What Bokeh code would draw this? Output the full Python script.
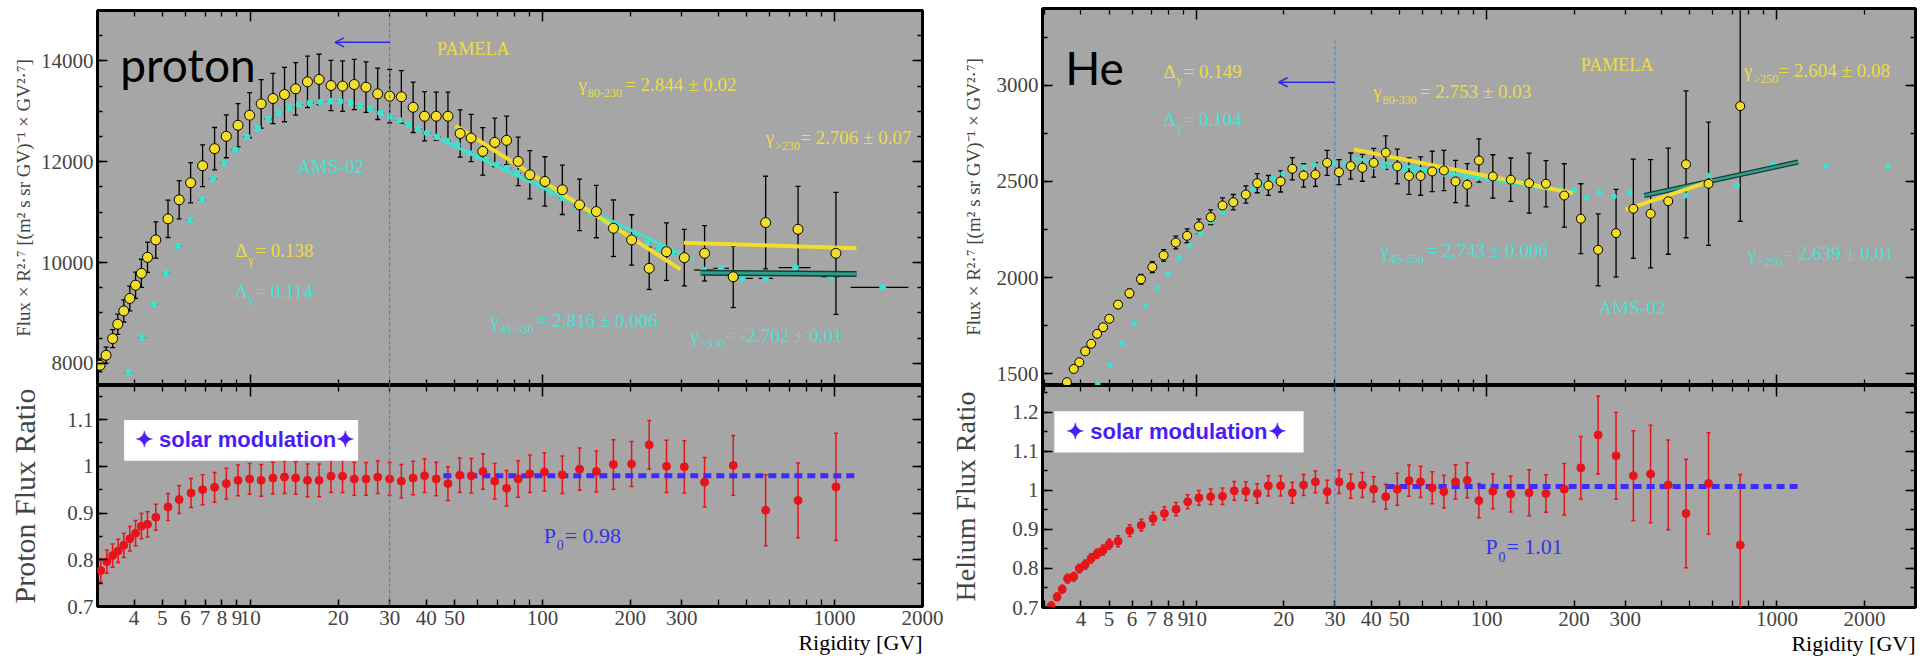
import numpy as np
from bokeh.plotting import figure
from bokeh.layouts import row, column
from bokeh.models import (Range1d, FixedTicker, LinearAxis, LogAxis, Label, Span, Title,
                          Arrow, OpenHead, TeeHead, Whisker, ColumnDataSource, BoxAnnotation)
from bokeh.embed import file_html
from bokeh.resources import INLINE

# ---------------- data: proton ----------------
p_pam_R = [3.06, 3.21, 3.38, 3.52, 3.69, 3.87, 4.05, 4.24, 4.45, 4.75, 5.23, 5.71, 6.25, 6.87, 7.55,
           8.28, 9.08, 9.95, 10.9, 11.96, 13.1, 14.3, 15.7, 17.2, 18.9, 20.7, 22.7, 24.9, 27.3, 30.0,
           32.9, 36.1, 39.5, 43.3, 47.5, 52.3, 57.0, 62.5, 68.7, 75.4, 82.6, 90.6, 102, 117, 134,
           153, 175, 202, 232, 266, 306, 359, 450, 581, 750, 1011]
p_pam_F = [7960, 8160, 8490, 8776, 9040, 9287, 9550, 9785, 10103, 10448, 10866, 11244, 11582, 11920, 12259,
           12504, 12723, 12922, 13148, 13254, 13333, 13446, 13585, 13632, 13512, 13500, 13532, 13479, 13347, 13300,
           13287, 13080, 12902, 12902, 12902, 12560, 12470, 12205, 12384, 12424, 12006, 11741, 11608, 11443, 11144,
           11011, 10680, 10448, 9885, 10215, 10096, 10183, 9717, 10792, 10659, 10183]
p_pam_E = [130, 160, 180, 200, 220, 245, 260, 280, 300, 360, 370, 380, 400, 415, 420,
           425, 430, 450, 480, 500, 540, 520, 510, 500, 500, 500, 500, 500, 510, 530,
           520, 500, 490, 480, 480, 470, 470, 470, 480, 480, 480, 480, 490, 490, 510,
           520, 560, 500, 420, 570, 560, 550, 610, 920, 850, 1210]

p_ams_R = [3.83, 4.26, 4.67, 5.14, 5.65, 6.23, 6.84, 7.45, 8.15, 8.89, 9.75, 10.6, 11.5, 12.5, 13.6,
           14.7, 16.0, 17.4, 18.8, 20.3, 22.0, 23.8, 25.8, 27.9, 30.0, 32.4, 34.8, 37.5, 40.3, 43.6,
           47.2, 51.1, 56.0, 59.8, 64.3, 69.9, 75.7, 81.9, 88.6, 97.1, 106, 118, 131, 146, 162,
           183, 205, 228, 250, 278, 305, 357, 409, 483, 581, 735, 968, 1462]
p_ams_F = [7814, 8511, 9174, 9785, 10328, 10846, 11244, 11655, 11972, 12239, 12491, 12670, 12849, 12968, 13068,
           13134, 13167, 13180, 13200, 13200, 13167, 13114, 13048, 12968, 12902, 12823, 12736, 12650, 12570, 12491,
           12404, 12338, 12173, 12105, 12040, 11940, 11874, 11775, 11675, 11542, 11409, 11278, 11110, 10980, 10846,
           10647, 10513, 10382, 10282, 10183, 10083, 9851, 9884, 9685, 9685, 9897, 9718, 9506]
p_ams_bin_lo = [330, 385, 433, 550, 644, 900, 1135]      # last 7 points
p_ams_bin_hi = [385, 435, 525, 615, 828, 1040, 1790]

p_rat_R = [3.08, 3.23, 3.38, 3.53, 3.69, 3.87, 4.05, 4.24, 4.45, 4.75, 5.23, 5.71, 6.27, 6.87, 7.55,
           8.28, 9.08, 9.95, 10.9, 11.96, 13.1, 14.3, 15.7, 17.2, 18.9, 20.7, 22.7, 24.9, 27.3, 30.0,
           32.9, 36.1, 39.5, 43.3, 47.5, 52.1, 57.1, 62.6, 68.7, 75.4, 82.6, 90.6, 101.6, 117, 134,
           153, 175, 202, 232, 266, 306, 359, 450, 581, 750, 1011]
p_rat_V = [0.777, 0.796, 0.809, 0.819, 0.831, 0.845, 0.857, 0.872, 0.876, 0.891, 0.913, 0.929, 0.943, 0.950, 0.955,
           0.963, 0.970, 0.973, 0.970, 0.975, 0.977, 0.975, 0.970, 0.970, 0.979, 0.979, 0.973, 0.973, 0.977, 0.973,
           0.968, 0.975, 0.980, 0.973, 0.963, 0.981, 0.980, 0.989, 0.968, 0.953, 0.973, 0.984, 0.988, 0.982, 0.994,
           0.989, 1.004, 1.005, 1.046, 1.000, 0.999, 0.966, 1.002, 0.906, 0.927, 0.956]
p_rat_E = [0.025, 0.025, 0.025, 0.025, 0.026, 0.026, 0.027, 0.027, 0.027, 0.028,
           0.029, 0.030, 0.031, 0.032, 0.032, 0.033, 0.033, 0.033, 0.034, 0.034,
           0.035, 0.035, 0.035, 0.035, 0.035, 0.035, 0.035, 0.035, 0.035, 0.035,
           0.036, 0.036, 0.036, 0.036, 0.036, 0.037, 0.037, 0.038, 0.038, 0.038,
           0.039, 0.040, 0.041, 0.040, 0.045, 0.044, 0.053, 0.048, 0.052, 0.056,
           0.056, 0.053, 0.064, 0.076, 0.080, 0.115]

p_fit_pam1_R, p_fit_pam1_F = [50.4, 297], [12716, 9865]
p_fit_pam2_R, p_fit_pam2_F = [305, 1189], [10394, 10282]
p_fit_ams1_R, p_fit_ams1_F = [45, 330], [12440, 10050]
p_fit_ams2_R, p_fit_ams2_F = [348, 1189], [9797, 9771]
p_p0_R, p_p0 = [45.8, 1190], 0.98

# ---------------- data: helium ----------------
he_pam_R = [3.58, 3.78, 3.95, 4.14, 4.34, 4.55, 4.77, 5.01, 5.37, 5.88, 6.44, 7.05, 7.71, 8.49, 9.29,
            10.2, 11.2, 12.3, 13.4, 14.8, 16.2, 17.7, 19.5, 21.4, 23.4, 25.7, 28.2, 31.0, 34.0, 37.3,
            40.8, 44.9, 49.2, 54.0, 59.2, 64.9, 71.2, 78.1, 85.7, 94.0, 105, 121, 140, 160, 185,
            211, 242, 279, 320, 367, 422, 486, 581, 747]
he_pam_F = [1455, 1524, 1559, 1616, 1655, 1707, 1741, 1785, 1859, 1918, 1991, 2054, 2115, 2182, 2217,
            2266, 2314, 2375, 2392, 2432, 2491, 2479, 2500, 2566, 2531, 2536, 2597, 2548, 2580, 2571,
            2597, 2650, 2578, 2528, 2528, 2552, 2557, 2500, 2483, 2609, 2526, 2509, 2491, 2488, 2427,
            2306, 2144, 2231, 2358, 2332, 2397, 2589, 2488, 2892]
he_pam_E = [15, 15, 16, 16, 17, 17, 18, 18, 20, 22, 25, 28, 30, 33, 36,
            38, 38, 39, 40, 45, 50, 52, 55, 58, 61, 62, 65, 65, 68, 70,
            75, 87, 90, 95, 100, 105, 105, 110, 110, 113, 113, 113, 156, 120, 165,
            182, 187, 228, 258, 282, 276, 382, 321, 600]

he_ams_R = [4.57, 5.04, 5.57, 6.11, 6.68, 7.32, 7.98, 8.73, 9.48, 10.3, 11.2, 12.3, 13.4, 14.5, 15.7,
            17.0, 18.4, 19.9, 21.5, 23.4, 25.4, 27.5, 29.7, 32.2, 34.9, 37.7, 40.8, 44.2, 47.9, 51.9,
            56.1, 60.8, 65.8, 71.2, 77.1, 85, 93, 102, 112, 123, 135, 148, 163, 180, 200,
            221, 245, 274, 310, 353, 486, 584, 728, 970, 1476, 2409]
he_ams_F = [1446, 1545, 1658, 1762, 1854, 1946, 2019, 2101, 2167, 2228, 2292, 2340, 2384, 2427, 2462,
            2488, 2514, 2540, 2561, 2574, 2587, 2592, 2595, 2592, 2589, 2583, 2580, 2574, 2569, 2562,
            2557, 2552, 2545, 2540, 2531, 2525, 2518, 2510, 2500, 2492, 2482, 2472, 2465, 2458, 2453,
            2415, 2444, 2422, 2444, 2427, 2427, 2531, 2479, 2592, 2580, 2580]

he_rat_R = [3.16, 3.31, 3.45, 3.60, 3.78, 3.95, 4.14, 4.34, 4.55, 4.77, 5.01, 5.37, 5.89, 6.46, 7.09,
            7.76, 8.51, 9.33, 10.2, 11.2, 12.3, 13.5, 14.8, 16.2, 17.7, 19.5, 21.4, 23.4, 25.7, 28.2,
            31.0, 34.0, 37.3, 40.8, 44.9, 49.2, 54.0, 59.2, 64.9, 71.2, 78.1, 85.7, 94.0, 105, 121,
            140, 160, 185, 211, 242, 279, 320, 367, 422, 486, 581, 747]
he_rat_V = [0.704, 0.727, 0.747, 0.774, 0.779, 0.800, 0.810, 0.826, 0.838, 0.847, 0.862, 0.870, 0.897, 0.911, 0.928,
            0.941, 0.952, 0.971, 0.981, 0.984, 0.985, 0.999, 0.998, 0.992, 1.012, 1.012, 0.994, 1.014, 1.022, 0.997,
            1.022, 1.011, 1.014, 1.003, 0.984, 1.003, 1.025, 1.022, 1.007, 0.997, 1.022, 1.026, 0.974, 0.998, 0.991,
            0.994, 0.992, 1.003, 1.058, 1.142, 1.089, 1.038, 1.042, 1.014, 0.941, 1.018, 0.860]
he_rat_E = [0.010, 0.010, 0.010, 0.011, 0.011, 0.011, 0.012, 0.012, 0.012, 0.013, 0.013, 0.014, 0.015, 0.015, 0.016,
            0.017, 0.017, 0.018, 0.019, 0.020, 0.021, 0.024, 0.024, 0.025, 0.026, 0.026, 0.027, 0.027, 0.028, 0.029,
            0.030, 0.031, 0.032, 0.032, 0.032, 0.041, 0.040, 0.040, 0.041, 0.042, 0.044, 0.045, 0.044, 0.045, 0.046,
            0.059, 0.048, 0.066, 0.080, 0.100, 0.111, 0.115, 0.125, 0.115, 0.139, 0.130, 0.181]

he_fit_pam1_R, he_fit_pam1_F = [34.8, 198], [2667, 2439]
he_fit_ams1_R, he_fit_ams1_F = [34.4, 198], [2622, 2445]
he_fit_pam2_R, he_fit_pam2_F = [301, 600], [2353, 2505]
he_fit_ams2_R, he_fit_ams2_F = [349, 1183], [2427, 2601]
he_p0_R, he_p0 = [45.2, 1181], 1.01

x_label_ticks = [4, 5, 6, 7, 8, 9, 10, 20, 30, 40, 50, 100, 200, 300, 1000, 2000]
x_unlabeled = [3, 60, 70, 80, 90, 400, 500, 600, 700, 800, 900, 3000]
x_decades = [10, 100, 1000]
x_minors = [3, 4, 5, 6, 7, 8, 9, 20, 30, 40, 50, 60, 70, 80, 90,
            200, 300, 400, 500, 600, 700, 800, 900, 2000, 3000]

# ---------------- styles ----------------
SERIF = "Liberation Serif"
GRAY = "#a6a6a6"
YEL = "#f2dc2c"
YEL_T = "#ecdc48"
CYAN = "#3fe0cf"
CYAN_T = "#45e3d3"
RED = "#e8141c"
BLUE_L = "#3d2bff"
BLUE_T = "#3434e6"
VIOLET = "#4a1cf7"
TEAL = "#2e9e8e"


def base_fig(xr, yr, fw, fh, bl, bt, br, bb):
    p = figure(x_axis_type="log", x_range=xr, y_range=yr, frame_width=fw, frame_height=fh,
               min_border_left=bl, min_border_top=bt, min_border_right=br, min_border_bottom=bb,
               x_axis_location=None, y_axis_location=None,
               output_backend="svg", toolbar_location=None)
    p.background_fill_color = GRAY
    p.border_fill_color = "white"
    p.outline_line_color = "black"
    p.outline_line_width = 3
    p.grid.grid_line_color = None
    return p


def tick_style(ax, tin, mtin):
    ax.major_tick_in = tin
    ax.major_tick_out = 0
    ax.minor_tick_in = mtin
    ax.minor_tick_out = 0
    ax.major_tick_line_width = 1.5
    ax.minor_tick_line_width = 1.3
    ax.major_tick_line_color = "black"
    ax.minor_tick_line_color = "black"
    ax.axis_line_color = None


def hidden(ax):
    ax.major_label_text_font_size = "0px"
    ax.major_label_text_color = None
    ax.major_label_standoff = 0


def add_axes(p, yticks, yminor, ylabel, ylabel_size, ylabel_standoff, bottom_labels, overrides=None):
    yl = LinearAxis(ticker=FixedTicker(ticks=yticks, minor_ticks=yminor))
    tick_style(yl, 10, 5)
    yl.major_label_text_font = SERIF
    yl.major_label_text_font_size = "21px"
    yl.major_label_standoff = 4
    if overrides:
        yl.major_label_overrides = overrides
    yl.axis_label = ylabel
    yl.axis_label_text_font = SERIF
    yl.axis_label_text_font_size = ylabel_size
    yl.axis_label_text_font_style = "normal"
    yl.axis_label_standoff = ylabel_standoff
    p.add_layout(yl, "left")

    yr = LinearAxis(ticker=FixedTicker(ticks=yticks, minor_ticks=yminor))
    tick_style(yr, 10, 5)
    hidden(yr)
    p.add_layout(yr, "right")

    xa = LogAxis(ticker=FixedTicker(ticks=x_decades, minor_ticks=x_minors))
    tick_style(xa, 11, 6)
    hidden(xa)
    p.add_layout(xa, "above")

    if bottom_labels:
        xb = LogAxis(ticker=FixedTicker(ticks=x_label_ticks, minor_ticks=x_unlabeled))
        tick_style(xb, 7, 7)
        xb.major_label_overrides = {t: str(t) for t in x_label_ticks}
        xb.major_label_text_font = SERIF
        xb.major_label_text_font_size = "21px"
        xb.major_label_standoff = 4
    else:
        xb = LogAxis(ticker=FixedTicker(ticks=x_decades, minor_ticks=x_minors))
        tick_style(xb, 11, 6)
        hidden(xb)
    p.add_layout(xb, "below")
    if bottom_labels:
        # "Rigidity [GV]" right-aligned under the frame's right edge
        p.add_layout(Title(text="Rigidity [GV]", align="right", text_font=SERIF,
                           text_font_size="22px", text_font_style="normal",
                           text_color="black", standoff=0, offset=0), "below")


def txt(p, x, y, text, color, size="19px", font=SERIF, baseline="middle", style="normal"):
    p.add_layout(Label(x=x, y=y, text=text, text_color=color, text_font=font,
                       text_font_size=size, text_baseline=baseline, text_font_style=style))


def subtxt(p, x, y, main, sub, rest, color, size=19, sub_size=12, main_w=None):
    mw = main_w if main_w is not None else size * 0.5
    sw = len(sub) * sub_size * 0.5 + 1
    common = dict(x=x, y=y, text_color=color, text_font=SERIF, text_baseline="middle")
    p.add_layout(Label(text=main, text_font_size=f"{size}px", **common))
    p.add_layout(Label(text=sub, text_font_size=f"{sub_size}px", x_offset=mw,
                       y_offset=-size * 0.45, **common))
    p.add_layout(Label(text=rest, text_font_size=f"{size}px", x_offset=mw + sw, **common))


def errbars(p, R, V, E, color, width=1.3, head=5):
    src = ColumnDataSource(dict(x=R, lo=np.array(V) - np.array(E), hi=np.array(V) + np.array(E)))
    w = Whisker(source=src, base="x", lower="lo", upper="hi", dimension="height",
                line_color=color, line_width=width,
                lower_head=TeeHead(size=head, line_color=color, line_width=width),
                upper_head=TeeHead(size=head, line_color=color, line_width=width))
    p.add_layout(w)


flux_label = "Flux × R²·⁷ [(m² s sr GV)⁻¹ × GV²·⁷]"
ratio_over = {0.7: "0.7", 0.8: "0.8", 0.9: "0.9", 1: "1", 1.1: "1.1", 1.2: "1.2"}

left_x = Range1d(3.0, 2000)
right_x = Range1d(2.95, 3000)

# ================= proton top =================
pLt = base_fig(left_x, Range1d(7560, 15000), 825, 375, 97, 10, 25, 0)
add_axes(pLt, [8000, 10000, 12000, 14000], list(range(7500, 15001, 500)),
         flux_label, "19px", 4, False)
pLt.add_layout(Span(location=30, dimension="height", line_color="#3b82d6", line_width=1, line_dash="4 2"))

# AMS-02
lo = [r / 1.03 for r in p_ams_R[:51]] + p_ams_bin_lo
hi = [r * 1.03 for r in p_ams_R[:51]] + p_ams_bin_hi
pLt.segment(x0=lo, y0=p_ams_F, x1=hi, y1=p_ams_F, line_color="black", line_width=1.2)
pLt.scatter(p_ams_R, p_ams_F, marker="circle", size=6, fill_color=CYAN, line_color=CYAN)
# fits
pLt.line(p_fit_ams1_R, p_fit_ams1_F, line_color=CYAN, line_width=3)
pLt.line(p_fit_ams2_R, p_fit_ams2_F, line_color="#1b3a35", line_width=6)
pLt.line(p_fit_ams2_R, p_fit_ams2_F, line_color=TEAL, line_width=3)
pLt.line(p_fit_pam1_R, p_fit_pam1_F, line_color=YEL, line_width=4)
pLt.line(p_fit_pam2_R, p_fit_pam2_F, line_color=YEL, line_width=4)
# PAMELA
errbars(pLt, p_pam_R, p_pam_F, p_pam_E, "black")
pLt.scatter(p_pam_R, p_pam_F, marker="circle", size=10, fill_color=YEL, line_color="black", line_width=1)

txt(pLt, 3.59, 13930, "proton", "black", size="46px", font="Lato", baseline="alphabetic")
pLt.add_layout(Arrow(end=OpenHead(size=9, line_color="#2a2ae8", line_width=1.5),
                     x_start=30, y_start=14368, x_end=19.5, y_end=14368,
                     line_color="#2a2ae8", line_width=1.5))
txt(pLt, 43.6, 14229, "PAMELA", YEL_T, size="18px")
subtxt(pLt, 133, 13532, "γ", "80-230", "= 2.844 ± 0.02", YEL_T)
subtxt(pLt, 581, 12478, "γ", ">230", "= 2.706 ± 0.07", YEL_T)
txt(pLt, 14.5, 11900, "AMS-02", CYAN_T, size="19px")
subtxt(pLt, 8.89, 10229, "Δ", "γ", "= 0.138", YEL_T, main_w=13)
subtxt(pLt, 8.89, 9433, "Δ", "γ", "= 0.114", CYAN_T, main_w=13)
subtxt(pLt, 66.4, 8856, "γ", "45-330", "= 2.816 ± 0.006", CYAN_T)
subtxt(pLt, 321, 8557, "γ", ">330", "= -2.702 ± 0.01", CYAN_T)

# ================= proton bottom =================
pLb = base_fig(left_x, Range1d(0.7, 1.173), 825, 221, 97, 0, 25, 56)
add_axes(pLb, [0.7, 0.8, 0.9, 1.0, 1.1], [0.7, 0.75, 0.8, 0.85, 0.9, 0.95, 1.0, 1.05, 1.1, 1.15],
         "Proton Flux Ratio", "30px", 23, True, overrides=ratio_over)
pLb.add_layout(Span(location=30, dimension="height", line_color="#3b82d6", line_width=1, line_dash="4 2"))
pLb.add_layout(BoxAnnotation(left=3.70, right=23.4, bottom=1.012, top=1.099,
                             fill_color="white", fill_alpha=1, line_color=None))
txt(pLb, 4.03, 1.057, "✦ solar modulation✦", VIOLET, size="22px", font="Liberation Sans", style="bold")
pLb.line(p_p0_R, [p_p0, p_p0], line_color=BLUE_L, line_width=5, line_dash="8 5")
errbars(pLb, p_rat_R, p_rat_V, p_rat_E, RED, width=1.5, head=4)
pLb.scatter(p_rat_R, p_rat_V, marker="circle", size=8, fill_color=RED, line_color=RED)
subtxt(pLb, 101, 0.853, "P", "0", "= 0.98", BLUE_T, size=22, sub_size=14, main_w=13)

# ================= helium top =================
pRt = base_fig(right_x, Range1d(1438, 3400), 873, 377, 95, 8, 15, 0)
add_axes(pRt, [1500, 2000, 2500, 3000], list(range(1250, 3401, 250)),
         flux_label, "19px", 10, False)
pRt.segment(x0=[30], y0=[1438], x1=[30], y1=[3234], line_color="#3b82d6", line_width=1, line_dash="4 2")

pRt.scatter(he_ams_R, he_ams_F, marker="circle", size=5, fill_color=CYAN, line_color=CYAN)
pRt.line(he_fit_ams1_R, he_fit_ams1_F, line_color=CYAN, line_width=3)
pRt.line(he_fit_ams2_R, he_fit_ams2_F, line_color="#1b3a35", line_width=5)
pRt.line(he_fit_ams2_R, he_fit_ams2_F, line_color=TEAL, line_width=2.5)
pRt.line(he_fit_pam1_R, he_fit_pam1_F, line_color=YEL, line_width=4)
pRt.line(he_fit_pam2_R, he_fit_pam2_F, line_color=YEL, line_width=4)
errbars(pRt, he_pam_R, he_pam_F, he_pam_E, "black")
pRt.scatter(he_pam_R, he_pam_F, marker="circle", size=9, fill_color=YEL, line_color="black", line_width=1)

txt(pRt, 3.53, 3094, "He", "black", size="46px", font="Lato", baseline="alphabetic")
pRt.add_layout(Arrow(end=OpenHead(size=9, line_color="#2a2ae8", line_width=1.5),
                     x_start=30, y_start=3016, x_end=19.2, y_end=3016,
                     line_color="#2a2ae8", line_width=1.5))
subtxt(pRt, 7.70, 3073, "Δ", "γ", "= 0.149", YEL_T, main_w=13)
subtxt(pRt, 7.70, 2823, "Δ", "γ", "= 0.104", CYAN_T, main_w=13)
subtxt(pRt, 40.7, 2969, "γ", "80-330", "= 2.753 ± 0.03", YEL_T)
txt(pRt, 211, 3104, "PAMELA", YEL_T, size="18px")
subtxt(pRt, 770, 3078, "γ", ">250", "= 2.604 ± 0.08", YEL_T)
subtxt(pRt, 43.1, 2141, "γ", "45-250", "= 2.743 ± 0.006", CYAN_T)
subtxt(pRt, 794, 2125, "γ", ">250", "= 2.639 ± 0.01", CYAN_T)
txt(pRt, 243, 1844, "AMS-02", CYAN_T, size="19px")

# ================= helium bottom =================
pRb = base_fig(right_x, Range1d(0.7, 1.269), 873, 222, 95, 0, 15, 54)
add_axes(pRb, [0.7, 0.8, 0.9, 1.0, 1.1, 1.2],
         [0.7, 0.75, 0.8, 0.85, 0.9, 0.95, 1.0, 1.05, 1.1, 1.15, 1.2, 1.25],
         "Helium Flux Ratio", "28px", 28, True, overrides=ratio_over)
pRb.add_layout(Span(location=30, dimension="height", line_color="#3b82d6", line_width=1, line_dash="4 2"))
pRb.add_layout(BoxAnnotation(left=3.24, right=23.4, bottom=1.097, top=1.203,
                             fill_color="white", fill_alpha=1, line_color=None))
txt(pRb, 3.56, 1.151, "✦ solar modulation✦", VIOLET, size="22px", font="Liberation Sans", style="bold")
pRb.line(he_p0_R, [he_p0, he_p0], line_color=BLUE_L, line_width=5, line_dash="8 5")
errbars(pRb, he_rat_R, he_rat_V, he_rat_E, RED, width=1.5, head=4)
pRb.scatter(he_rat_R, he_rat_V, marker="circle", size=8, fill_color=RED, line_color=RED)
subtxt(pRb, 99, 0.856, "P", "0", "= 1.01", BLUE_T, size=22, sub_size=14, main_w=13)

layout = row(column(pLt, pLb), column(pRt, pRb))
open("out.html", "w").write(file_html(layout, INLINE, "flux ratio"))
